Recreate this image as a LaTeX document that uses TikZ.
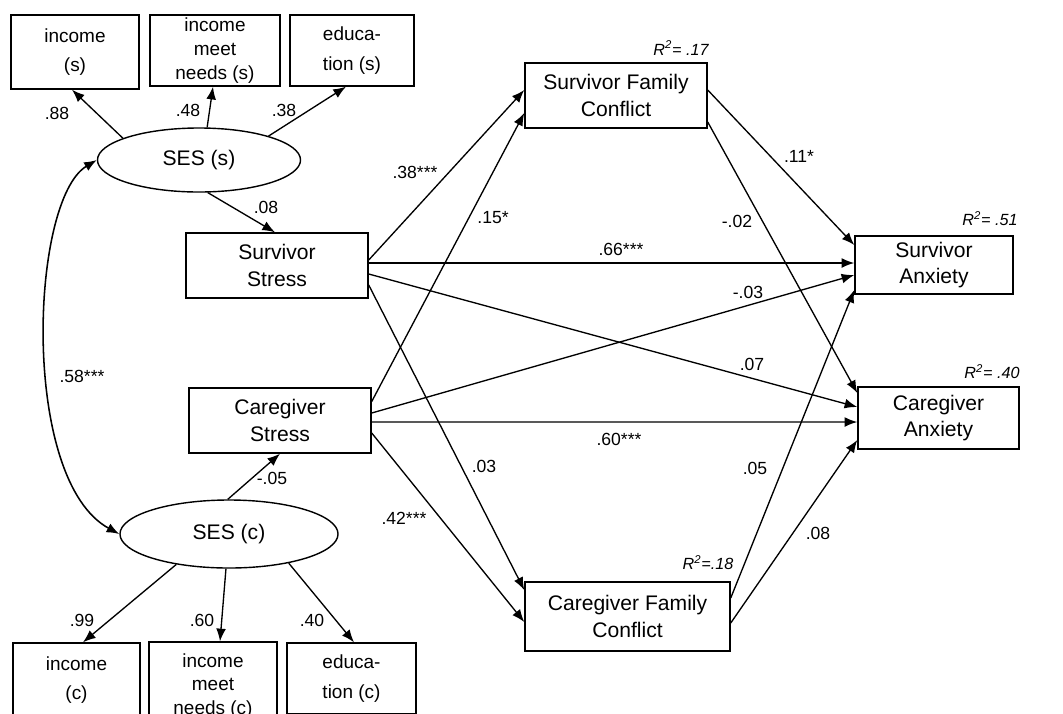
\documentclass[tikz,border=0pt]{standalone}
\usepackage{fontspec}
\setmainfont{Liberation Sans}
\usetikzlibrary{arrows.meta,shapes.geometric,calc}

\tikzset{
  bigbox/.style={draw, line width=1pt, align=center, inner sep=2pt, font=\fontsize{15}{19}\selectfont},
  smallbox/.style={draw, line width=1pt, align=center, inner sep=2pt, font=\fontsize{13.5}{17}\selectfont},
  latent/.style={draw, ellipse, line width=1pt, inner sep=1pt, font=\fontsize{15}{18}\selectfont},
  effect/.style={-{Latex[length=9pt,width=7pt]}, line width=0.95pt},
  corr/.style={{Latex[length=9pt,width=7pt]}-{Latex[length=9pt,width=7pt]}, line width=1.1pt},
  coef/.style={font=\fontsize{12.5}{15}\selectfont, inner sep=0pt},
  rsq/.style={font=\fontsize{11.5}{14}\selectfont\itshape, inner sep=0pt},
}

\begin{document}
\begin{tikzpicture}[x=0.025cm, y=-0.025cm]

        % page frame
        \useasboundingbox (0,0) rectangle (1063,713);
        \clip (0,0) rectangle (1063,713);

        % indicators of SES (s)
        \node[smallbox, minimum width=3.2cm, minimum height=1.85cm] (incS) at (75,52) {income\\[4pt](s)};
        \node[smallbox, minimum width=3.25cm, minimum height=1.775cm] (needS) at (215,50.5) {income\\meet\\needs (s)};
        \node[smallbox, minimum width=3.1cm, minimum height=1.775cm] (eduS) at (352,50.5) {educa-\\[4pt]tion (s)};

        % latent variables
        \node[latent, minimum width=5.075cm, minimum height=1.6cm] (sesS) at (199,160) {SES (s)};
        \node[latent, minimum width=5.45cm, minimum height=1.7cm] (sesC) at (229,534) {SES (c)};

        % indicators of SES (c)
        \node[smallbox, minimum width=3.175cm, minimum height=1.85cm] (incC) at (76.5,680) {income\\[4pt](c)};
        \node[smallbox, minimum width=3.2cm, minimum height=2.2cm] (needC) at (213,686) {income\\meet\\needs (c)};
        \node[smallbox, minimum width=3.225cm, minimum height=1.775cm] (eduC) at (351.5,678.5) {educa-\\[4pt]tion (c)};

        % stress, conflict and anxiety
        \node[bigbox, minimum width=4.55cm, minimum height=1.625cm] (survStress) at (277,265.5) {Survivor\\Stress};
        \node[bigbox, minimum width=4.55cm, minimum height=1.625cm] (careStress) at (280,420.5) {Caregiver\\Stress};
        \node[bigbox, minimum width=4.55cm, minimum height=1.625cm] (survConf) at (616,95.5) {Survivor Family\\Conflict};
        \node[bigbox, minimum width=5.125cm, minimum height=1.725cm] (careConf) at (627.5,616.5) {Caregiver Family\\Conflict};
        \node[bigbox, minimum width=3.95cm, minimum height=1.45cm] (survAnx) at (934,265) {Survivor\\Anxiety};
        \node[bigbox, minimum width=4.025cm, minimum height=1.55cm] (careAnx) at (938.5,418) {Caregiver\\Anxiety};

        % R squared
        \node[rsq] (rsqSC) at (681,48) {R\textsuperscript{2}= .17};
        \node[rsq] (rsqSA) at (990,219) {R\textsuperscript{2}= .51};
        \node[rsq] (rsqCA) at (992,372) {R\textsuperscript{2}= .40};
        \node[rsq] (rsqCC) at (708,563) {R\textsuperscript{2}=.18};

        % measurement paths
        \draw[effect] (sesS.164.8) -- ($(incS.south)+(-3,0)$);
        \draw[effect] (sesS.76) -- ($(needS.south)+(-2,0)$);
        \draw[effect] (sesS.19.4) -- ($(eduS.south)+(-6,0)$);
        \draw[effect] (sesC.210.6) -- ($(incC.north)+(6.5,0)$);
        \draw[effect] (sesC.265) -- ($(needC.north)+(7,0)$);
        \draw[effect] (sesC.-26) -- ($(eduC.north)+(2.5,0)$);

        % SES to stress
        \draw[effect] (sesS.-75) -- ($(survStress.north)+(-2,0)$);
        \draw[effect] (sesC.92) -- (careStress.south);
        \draw[corr] (sesS.west) .. controls (30,200) and (20,480) .. (sesC.west);

        % structural paths
        \draw[effect] ($(survStress.east)+(0,-5.5)$) -- ($(survConf.west)+(0,-5.5)$);
        \draw[effect] ($(careStress.east)+(0,-19)$) -- ($(survConf.west)+(0,17.5)$);
        \draw[effect] ($(survStress.east)+(0,-2.5)$) -- ($(survAnx.west)+(0,-2)$);
        \draw[effect] ($(survStress.east)+(0,8.5)$) -- ($(careAnx.west)+(0,-11)$);
        \draw[effect] ($(survStress.east)+(0,19.5)$) -- ($(careConf.west)+(0,-26.5)$);
        \draw[effect] ($(careStress.east)+(0,-7.5)$) -- ($(survAnx.west)+(0,10)$);
        \draw[effect] ($(careStress.east)+(0,1.5)$) -- ($(careAnx.west)+(0,4)$);
        \draw[effect] ($(careStress.east)+(0,12.5)$) -- ($(careConf.west)+(0,5.5)$);
        \draw[effect] ($(survConf.east)+(0,-5.5)$) -- ($(survAnx.west)+(0,-20)$);
        \draw[effect] ($(survConf.east)+(0,26.5)$) -- ($(careAnx.west)+(0,-25)$);
        \draw[effect] ($(careConf.east)+(0,-18.5)$) -- ($(survAnx.west)+(0,25)$);
        \draw[effect] ($(careConf.east)+(0,6.5)$) -- ($(careAnx.west)+(0,22)$);

        % coefficients
        \node[coef] (c88) at (57,113) {.88};
        \node[coef] (c48) at (188,110) {.48};
        \node[coef] (c38) at (284,110) {.38};
        \node[coef] (c08) at (266,207) {.08};
        \node[coef] (c58) at (82,376) {.58***};
        \node[coef] (c05) at (272,478) {-.05};
        \node[coef] (c99) at (82,620) {.99};
        \node[coef] (c60) at (202,620) {.60};
        \node[coef] (c40) at (312,620) {.40};
        \node[coef] (cSSsc) at (415,172) {.38***};
        \node[coef] (cCSsc) at (493,218) {.15*};
        \node[coef] (cSSsa) at (621,249) {.66***};
        \node[coef] (cSCca) at (737,221) {-.02};
        \node[coef] (cSCsa) at (799,156) {.11*};
        \node[coef] (cCSsa) at (748,292) {-.03};
        \node[coef] (cSSca) at (752,364) {.07};
        \node[coef] (cCSca) at (619,439) {.60***};
        \node[coef] (cSScc) at (484,466) {.03};
        \node[coef] (cCScc) at (404,518) {.42***};
        \node[coef] (cCCsa) at (755,468) {.05};
        \node[coef] (cCCca) at (818,533) {.08};

\end{tikzpicture}
\end{document}
